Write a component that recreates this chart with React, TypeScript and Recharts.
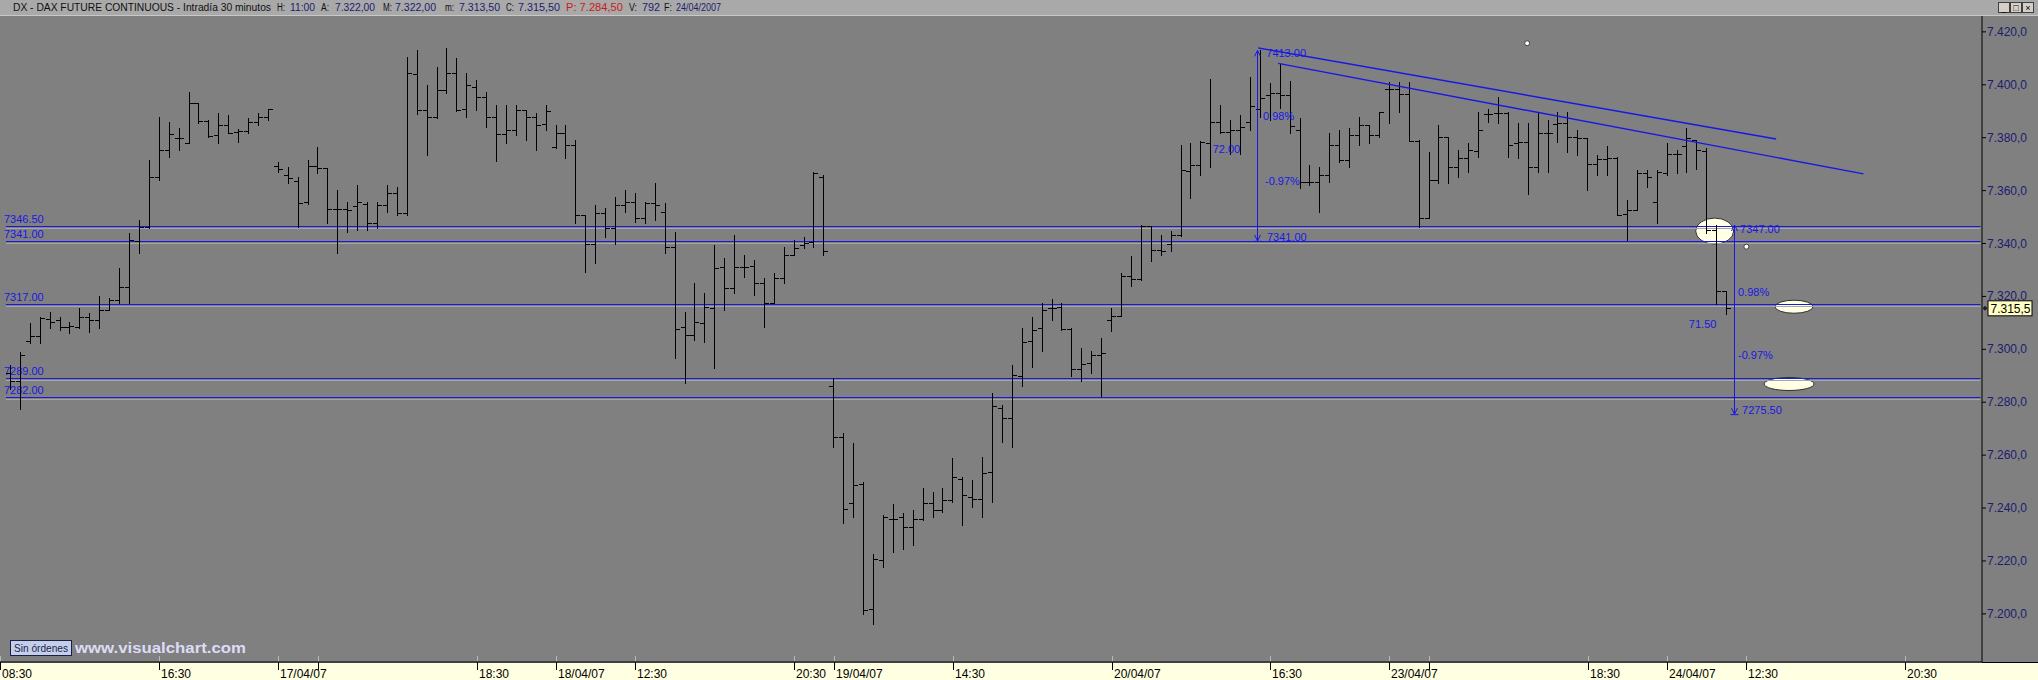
import {
  Bar,
  ComposedChart,
  ReferenceDot,
  ReferenceLine,
  XAxis,
  YAxis,
} from "recharts";

// 30 minute bars, 28 slots per session; first slot of every session on screen
const DAY_FIRST_SLOT = [1, 28, 56, 84, 112, 140, 168];

// [open, high, low, close]
const BARS_16_04 = [
  [7291, 7294, 7285, 7288], [7288, 7299, 7277.5, 7298], [7303, 7310, 7302.3, 7305],
  [7305, 7312.3, 7302.3, 7311.7], [7311.5, 7314.2, 7308, 7310.5], [7311, 7312.3, 7307.3, 7308.5],
  [7308.6, 7310.4, 7306, 7309], [7308.5, 7315.5, 7308, 7312.3], [7312.3, 7313.6, 7306.7, 7311],
  [7311, 7320, 7308, 7315], [7315, 7319.3, 7314.9, 7318.6], [7318.5, 7330.6, 7317.4, 7323.7],
  [7323.5, 7343.8, 7317.4, 7341.3], [7341, 7348.9, 7336.3, 7346.4], [7346.4, 7371.6, 7345.7, 7365],
  [7365, 7388, 7364, 7375.3], [7375.3, 7386, 7372.8, 7381.4], [7380, 7383.5, 7375.3, 7379.8],
  [7378.1, 7397.4, 7377.9, 7393], [7393, 7393, 7385.4, 7386.4], [7386.4, 7386.7, 7380.4, 7380.6],
  [7381, 7389.2, 7377.9, 7384.8], [7384.8, 7388.6, 7381.9, 7381.9], [7382, 7383.2, 7378.5, 7382.7],
  [7382.6, 7387.3, 7381.9, 7386], [7386, 7389.5, 7384.8, 7387.7], [7387.7, 7390.7, 7386.7, 7390.7],
];

const BARS_17_04 = [
  [7369.3, 7370.9, 7367.2, 7368], [7365.9, 7369, 7362.7, 7364.6], [7363.8, 7365.3, 7346.4, 7355.2],
  [7355.6, 7371.5, 7355.1, 7369.3], [7369.3, 7376.6, 7366.5, 7368.4], [7368.4, 7368.4, 7347.6, 7353],
  [7353, 7360.2, 7336.3, 7353], [7353, 7355.8, 7344.5, 7352.7], [7354, 7362, 7345, 7355.8],
  [7355, 7355.8, 7345, 7347.9], [7347.9, 7355.8, 7345.7, 7354.5], [7354.5, 7362, 7352, 7359],
  [7359, 7361.5, 7350.7, 7351.4], [7351.4, 7410.6, 7350.7, 7404.3], [7404, 7413, 7389, 7390.5],
  [7390.5, 7400, 7373.5, 7387.7], [7388, 7406.9, 7387.3, 7398], [7398, 7413.8, 7396.8, 7404.6],
  [7404.6, 7410, 7390, 7390.5], [7391, 7404.3, 7388, 7400], [7399.3, 7401.8, 7390.5, 7395.3],
  [7395.3, 7397.4, 7384, 7387.7], [7388, 7392.4, 7371, 7381.4], [7381.4, 7392.4, 7377.9, 7382.9],
  [7382.9, 7392.4, 7381, 7390.5], [7390.5, 7390.5, 7379, 7388], [7388, 7389.2, 7375.3, 7384.8],
  [7385, 7392.4, 7383, 7390],
];

const BARS_18_04 = [
  [7376.4, 7384.8, 7376, 7381.7], [7381.7, 7384.8, 7372.2, 7377.2], [7377.2, 7379, 7347.6, 7350.8],
  [7350.8, 7350.8, 7329.4, 7340], [7340, 7354.5, 7332.5, 7351.4], [7351.4, 7353.3, 7342.6, 7345.7],
  [7345.7, 7357.7, 7340, 7354.5], [7354.5, 7360.2, 7352, 7355.8], [7355.8, 7359, 7348.3, 7349.5],
  [7349.5, 7355.8, 7347.6, 7355.2], [7355.2, 7362.7, 7349, 7354.5], [7352, 7355.2, 7336.3, 7338.8],
  [7338.8, 7344.5, 7296.6, 7307.6], [7308.5, 7314.2, 7287.1, 7305.4], [7305.4, 7325, 7303.5, 7310.4],
  [7310, 7321.2, 7302.9, 7316], [7315.5, 7339.4, 7292.8, 7330.6], [7331, 7334.4, 7314.9, 7323],
  [7323, 7343.2, 7321.2, 7331], [7331, 7335.7, 7327.5, 7331], [7331.5, 7333.8, 7320.5, 7325],
  [7325, 7326.8, 7308.6, 7317.4], [7317.4, 7328.7, 7317.4, 7326.8], [7326.8, 7338.8, 7325, 7335.7],
  [7335.7, 7341.3, 7335.7, 7338.2], [7339.4, 7342.6, 7338.2, 7340.3], [7340.7, 7367.2, 7338.8, 7366.5],
  [7365.3, 7365.9, 7335.7, 7337],
];

const BARS_19_04 = [
  [7286, 7289, 7263, 7267], [7267, 7268.2, 7234.2, 7239.8], [7241.8, 7264.4, 7236.7, 7248.7],
  [7249, 7250, 7200, 7201.5], [7202, 7222.6, 7196.2, 7220.8], [7220.5, 7237.3, 7217.8, 7236.7],
  [7236, 7241.7, 7223.5, 7236], [7236.7, 7238, 7224.7, 7232.9], [7233, 7239.2, 7226, 7236],
  [7236, 7247.4, 7235.5, 7241.8], [7241.8, 7246.2, 7236.7, 7239.2], [7239.2, 7247.4, 7238.6, 7243],
  [7243, 7258.8, 7242.4, 7251.8], [7251, 7251.8, 7233.6, 7244.9], [7244, 7250.6, 7240.5, 7243.6],
  [7243.6, 7259.4, 7236.7, 7253.1], [7253.7, 7283.4, 7242.4, 7278.6], [7277.7, 7279, 7265, 7273.9],
  [7274, 7294, 7263, 7290.3], [7290, 7307.9, 7286, 7302.9], [7303, 7312.3, 7293.4, 7307.3],
  [7308, 7317.5, 7299.2, 7315], [7315.6, 7319, 7311.2, 7315.6], [7316, 7317.5, 7307.4, 7307.7],
  [7307.7, 7308, 7289.8, 7292.6], [7292.6, 7300.5, 7287.9, 7294.6], [7294.8, 7299.2, 7291, 7298],
  [7298, 7304.3, 7282.2, 7298.6],
];

const BARS_20_04 = [
  [7311.2, 7315.6, 7306.8, 7312.5], [7312.5, 7328.8, 7312.5, 7327.6], [7327.6, 7335.1, 7323.8, 7326.6],
  [7326.6, 7347.1, 7326.3, 7346.5], [7346.5, 7346.5, 7333.3, 7337.4], [7337.4, 7343.3, 7335.8, 7337],
  [7340, 7344.6, 7337, 7343.3], [7343.3, 7377.4, 7342.7, 7367.9], [7367.3, 7378, 7357.2, 7369.8],
  [7369.8, 7378.6, 7366, 7378.2], [7378, 7402, 7369, 7386], [7386, 7392.5, 7381.8, 7382],
  [7382, 7386.8, 7374, 7383], [7383, 7388.6, 7374, 7384], [7386, 7403, 7383, 7392],
  [7391, 7413, 7388, 7395], [7396, 7400.5, 7386.8, 7397], [7397, 7408, 7391.4, 7396],
  [7396, 7401.5, 7381.6, 7384.4], [7383, 7387.3, 7360.8, 7363.3], [7363.3, 7369.7, 7362, 7363.3],
  [7363.3, 7369, 7352, 7365.8], [7365.8, 7381.6, 7363.3, 7377.4], [7377.4, 7382.9, 7370.9, 7371.5],
  [7371.5, 7383.5, 7369, 7381], [7381, 7388, 7377.4, 7384.8], [7384.8, 7384.8, 7377.9, 7381],
  [7381, 7389.8, 7380.4, 7389.8],
];

const BARS_23_04 = [
  [7398.5, 7401, 7385.4, 7398.5], [7398.5, 7401, 7389.8, 7396.5], [7396.5, 7401, 7378.8, 7378.8],
  [7378.8, 7379, 7346.4, 7349.5], [7349.5, 7374.6, 7349.5, 7364], [7364, 7384.8, 7362.7, 7380.4],
  [7380.4, 7380.4, 7362.7, 7368.8], [7368.8, 7375.3, 7365.3, 7372.5], [7372.5, 7377.9, 7367.2, 7375.3],
  [7375, 7389.8, 7372.8, 7383], [7389, 7391, 7386, 7389], [7389.5, 7395.5, 7385.4, 7389.5],
  [7389.5, 7389.8, 7372.8, 7377.2], [7378, 7385.4, 7372.2, 7378.5], [7378.5, 7385.4, 7358.7, 7369],
  [7369, 7389.2, 7367.2, 7381.6], [7381.6, 7386.7, 7367.2, 7381.6], [7385, 7389.8, 7378.5, 7385.4],
  [7385.4, 7389.8, 7374.6, 7380.4], [7380.4, 7382.9, 7373.5, 7379.8], [7379.8, 7379.8, 7360.2, 7370],
  [7370, 7373.4, 7365.8, 7372], [7372, 7377, 7365.8, 7372.5], [7372.5, 7372.8, 7350.7, 7350.7],
  [7351, 7356.4, 7341.3, 7352.6], [7352.6, 7367.8, 7352.6, 7366.5], [7366.5, 7367.8, 7361.5, 7365.3],
  [7355.7, 7367.8, 7347.6, 7367.2],
];

const BARS_24_04 = [
  [7366.5, 7377.9, 7366, 7374], [7374, 7375.3, 7366.5, 7374], [7377, 7383.5, 7367.2, 7379.8],
  [7379, 7379, 7368.3, 7375.3], [7375, 7376, 7343.8, 7345], [7345, 7347, 7317, 7322],
  [7322, 7322, 7313.5, 7315.5],
];

const SESSIONS = [BARS_16_04, BARS_17_04, BARS_18_04, BARS_19_04, BARS_20_04, BARS_23_04, BARS_24_04];

const TICK_SLOTS = [0, 16, 28, 32, 48, 56, 64, 80, 84, 96, 112, 128, 140, 144, 160, 168, 176, 192];
const TICK_LABELS = [
  "08:30", "16:30", "17/04/07", "", "18:30", "18/04/07", "12:30", "20:30", "19/04/07",
  "14:30", "20/04/07", "16:30", "23/04/07", "", "18:30", "24/04/07", "12:30", "20:30",
];
const PRICE_TICKS = [7200, 7220, 7240, 7260, 7280, 7300, 7320, 7340, 7360, 7380, 7400, 7420];

// horizontal support / resistance levels
const LEVELS = [7346.5, 7341, 7317, 7289, 7282];
const LEVEL_LABELS = ["7346.50", "7341.00", "7317.00", "7289.00", "7282.00"];

// trend lines: [slot, price] start and end
const TREND_A = [[126.8, 7413.9], [179.0, 7379.5]];
const TREND_B = [[128.8, 7408.1], [187.8, 7366.3]];

// vertical measuring tools
const MEASURE_SLOT = [126.67, 174.75];
const MEASURE_FROM = [7413, 7347];
const MEASURE_TO = [7341, 7275.5];

// annotation texts and their anchors
const NOTE_TEXT = ["7413.00", "0.98%", "72.00", "-0.97%", "7341.00", "7347.00", "0.98%", "71.50", "-0.97%", "7275.50"];
const NOTE_SLOT = [127.6, 127.27, 122.2, 127.47, 127.67, 175.36, 175.15, 170.2, 175.15, 175.56];
const NOTE_PRICE = [7410.5, 7386.6, 7374.4, 7362.1, 7341.1, 7344, 7320.1, 7308, 7296.3, 7275.5];

// marks drawn on the chart
const ELLIPSE_SLOT = [172.8, 180.8, 180.3];
const ELLIPSE_PRICE = [7344.7, 7316.1, 7286.9];
const ELLIPSE_RADII = [[19, 13], [19, 6.5], [25, 6.5]];
const DOT_SLOT = [153.9, 176.0];
const DOT_PRICE = [7415.7, 7338.8];
const LAST_PRICE = 7315.5;

const FONT = '"Liberation Sans", Arial, sans-serif';
const BLUE = "#1818e4";
const NAVY = "#1c1c70";

const bars = SESSIONS.flatMap((rows, d) =>
  rows.map(([open, high, low, close], k) => ({
    slot: DAY_FIRST_SLOT[d] + k,
    open,
    high,
    low,
    close,
    range: [low, high],
  }))
);

function fmtPrice(v: number) {
  const [int, dec] = v.toFixed(1).split(".");
  return int.slice(0, -3) + "." + int.slice(-3) + "," + dec;
}

function OhlcShape(props: any) {
  const { x, y, width, height, payload } = props;
  if (!payload || !Number.isFinite(y)) return null;
  const cx = Math.round(x + width / 2) + 0.5;
  const top = Math.min(y, y + height);
  const span = Math.abs(height);
  const range = payload.high - payload.low || 1;
  const at = (v: number) => Math.round(top + ((payload.high - v) / range) * span) + 0.5;
  return (
    <g stroke="#000" strokeWidth={1}>
      <line x1={cx} x2={cx} y1={Math.round(top)} y2={Math.round(top + span) + 1} />
      <line x1={cx - 4.5} x2={cx} y1={at(payload.open)} y2={at(payload.open)} />
      <line x1={cx} x2={cx + 4.5} y1={at(payload.close)} y2={at(payload.close)} />
    </g>
  );
}

function TimeTick(props: any) {
  const { x, y, payload } = props;
  const k = TICK_SLOTS.indexOf(payload.value);
  const px = Math.round(x) + 0.5;
  return (
    <g>
      <line x1={px} x2={px} y1={y - 6} y2={y - 1} stroke="#b8b8b8" />
      <line x1={px} x2={px} y1={y} y2={y + 8} stroke="#000" />
      <text x={px + 1.5} y={y + 16} fontSize={12} fontFamily={FONT} fill="#000">
        {TICK_LABELS[k]}
      </text>
    </g>
  );
}

function PriceTick(props: any) {
  const { x, y, payload } = props;
  return (
    <text x={x} y={y + 4} fontSize={12} fontFamily={FONT} fill={NAVY}>
      {fmtPrice(payload.value)}
    </text>
  );
}

function LevelShape(props: any) {
  const { x1, x2, y1, text } = props;
  const y = Math.round(y1) + 0.5;
  return (
    <g>
      <line x1={x1} x2={x2} y1={y + 2} y2={y + 2} stroke="#a6a6a6" />
      <line x1={x1} x2={x2} y1={y} y2={y} stroke={BLUE} />
      <text x={x1 - 2} y={y - 4} fontSize={11} fontFamily={FONT} fill={BLUE}>
        {text}
      </text>
    </g>
  );
}

function MeasureShape(props: any) {
  const { x1, y1, y2 } = props;
  const x = Math.round(x1) + 0.5;
  const top = Math.min(y1, y2);
  const bot = Math.max(y1, y2);
  return (
    <g stroke={BLUE} fill="none" strokeWidth={1}>
      <line x1={x} x2={x} y1={top} y2={bot} />
      <polyline points={`${x - 3},${top + 6} ${x},${top} ${x + 3},${top + 6}`} />
      <polyline points={`${x - 3},${bot - 6} ${x},${bot} ${x + 3},${bot - 6}`} />
      <line x1={x - 4} x2={x + 4} y1={bot + 0.5} y2={bot + 0.5} />
    </g>
  );
}

function Overlay() {
  const dark = "#101010";
  const head: [string, number, number, string][] = [
    ["DX - DAX FUTURE CONTINUOUS - Intradía 30 minutos", 13, 258, dark],
    ["H:", 277, 8, dark], ["11:00", 290, 25, NAVY],
    ["A:", 321, 8, dark], ["7.322,00", 335, 40, NAVY],
    ["M:", 383, 9, dark], ["7.322,00", 395, 41, NAVY],
    ["m:", 445, 9, dark], ["7.313,50", 459, 41, NAVY],
    ["C:", 506, 8, dark], ["7.315,50", 518, 42, NAVY],
    ["P: 7.284,50", 566, 57, "#d01818"],
    ["V:", 629, 8, dark], ["792", 642, 18, NAVY],
    ["F:", 664, 8, dark], ["24/04/2007", 676, 45, NAVY],
  ];
  return (
    <svg
      width={2038}
      height={680}
      style={{ position: "absolute", left: 0, top: 0, pointerEvents: "none" }}
    >
      <rect x={0} y={0} width={2038} height={15} fill="#a9a9a9" />
      <line x1={0} x2={2038} y1={15.5} y2={15.5} stroke="#c8c8c8" />
      {head.map(([t, x, w, c], i) => (
        <text
          key={i}
          x={x}
          y={11}
          fontSize={10}
          fontFamily={FONT}
          fill={c}
          textLength={w}
          lengthAdjust="spacingAndGlyphs"
        >
          {t}
        </text>
      ))}
      {["_", "□", "×"].map((g, i) => (
        <g key={g}>
          <rect x={1998.5 + i * 12} y={2.5} width={11} height={10} fill="#d4d0c8" stroke="#404040" />
          <text x={2004 + i * 12} y={11} fontSize={9} textAnchor="middle" fontFamily={FONT} fill="#000">
            {g}
          </text>
        </g>
      ))}
      <line x1={1982} x2={2038} y1={662.5} y2={662.5} stroke="#000" />
      <rect x={10.5} y={640.5} width={61} height={15} fill="#c4d0e4" stroke="#1c1c50" />
      <text x={14} y={652} fontSize={11} fontFamily={FONT} fill="#1c1c60" textLength={54} lengthAdjust="spacingAndGlyphs">
        Sin órdenes
      </text>
      <text
        x={75}
        y={653}
        fontSize={15}
        fontWeight="bold"
        fontFamily={FONT}
        fill="#dcdcf6"
        textLength={171}
        lengthAdjust="spacingAndGlyphs"
      >
        www.visualchart.com
      </text>
    </svg>
  );
}

export default function App() {
  return (
    <div
      style={{
        position: "absolute",
        left: 0,
        top: 0,
        width: 2038,
        height: 680,
        overflow: "hidden",
        background: "#808080",
      }}
    >
      <div
        style={{ position: "absolute", left: 0, top: 663, width: 2038, height: 17, background: "#ffffe1" }}
      />
      <div style={{ position: "absolute", left: 0, top: 0 }}>
        <ComposedChart
          width={2038}
          height={680}
          data={bars}
          margin={{ top: 16, right: 0, bottom: 0, left: 0 }}
        >
          <XAxis
            dataKey="slot"
            type="number"
            domain={[-0.05, 199.75]}
            allowDataOverflow
            ticks={TICK_SLOTS}
            interval={0}
            height={18}
            tickSize={0}
            tickMargin={0}
            tick={<TimeTick />}
            axisLine={{ stroke: "#000" }}
          />
          <YAxis
            orientation="right"
            type="number"
            domain={[7181.8, 7426]}
            allowDataOverflow
            ticks={PRICE_TICKS}
            interval={0}
            width={56}
            tickSize={4}
            tickMargin={1}
            tick={<PriceTick />}
            tickLine={{ stroke: "#000" }}
            axisLine={{ stroke: "#000" }}
          />
          {ELLIPSE_SLOT.map((s, i) => (
            <ReferenceDot
              key={`e${i}`}
              x={s}
              y={ELLIPSE_PRICE[i]}
              r={1}
              zIndex={50}
              shape={(p: any) => (
                <ellipse
                  cx={p.cx}
                  cy={p.cy}
                  rx={ELLIPSE_RADII[i][0]}
                  ry={ELLIPSE_RADII[i][1]}
                  fill="#ffffe4"
                  stroke="#303030"
                />
              )}
            />
          ))}
          {LEVELS.map((v, i) => (
            <ReferenceLine
              key={`l${i}`}
              segment={[{ x: 0.55, y: v }, { x: 199.6, y: v }]}
              zIndex={100}
              shape={(p: any) => <LevelShape {...p} text={LEVEL_LABELS[i]} />}
            />
          ))}
          <Bar
            dataKey="range"
            barSize={9}
            shape={<OhlcShape />}
            isAnimationActive={false}
            zIndex={300}
          />
          {[TREND_A, TREND_B].map((t, i) => (
            <ReferenceLine
              key={`t${i}`}
              segment={[{ x: t[0][0], y: t[0][1] }, { x: t[1][0], y: t[1][1] }]}
              stroke={BLUE}
              strokeWidth={1.4}
              zIndex={400}
            />
          ))}
          {MEASURE_SLOT.map((s, i) => (
            <ReferenceLine
              key={`m${i}`}
              segment={[{ x: s, y: MEASURE_FROM[i] }, { x: s, y: MEASURE_TO[i] }]}
              zIndex={450}
              shape={(p: any) => <MeasureShape {...p} />}
            />
          ))}
          {NOTE_TEXT.map((t, i) => (
            <ReferenceDot
              key={`n${i}`}
              x={NOTE_SLOT[i]}
              y={NOTE_PRICE[i]}
              r={1}
              zIndex={500}
              shape={(p: any) => (
                <text x={p.cx} y={p.cy} fontSize={11} fontFamily={FONT} fill={BLUE}>
                  {t}
                </text>
              )}
            />
          ))}
          {DOT_SLOT.map((s, i) => (
            <ReferenceDot
              key={`d${i}`}
              x={s}
              y={DOT_PRICE[i]}
              r={2.5}
              fill="#ffffff"
              stroke="#404040"
              zIndex={600}
            />
          ))}
          <ReferenceDot
            x={199.7}
            y={LAST_PRICE}
            r={1}
            ifOverflow="visible"
            zIndex={700}
            shape={(p: any) => (
              <g>
                <path
                  d={`M${p.cx + 1},${p.cy} l2.5,-2.5 l2.5,2.5 l-2.5,2.5 z`}
                  fill="#202020"
                />
                <rect x={p.cx + 6.5} y={p.cy - 7.5} width={44} height={15} fill="#ffffc4" stroke="#000" />
                <text x={p.cx + 9} y={p.cy + 4.5} fontSize={12} fontFamily={FONT} fill="#000">
                  {fmtPrice(LAST_PRICE)}
                </text>
              </g>
            )}
          />
        </ComposedChart>
      </div>
      <Overlay />
    </div>
  );
}
